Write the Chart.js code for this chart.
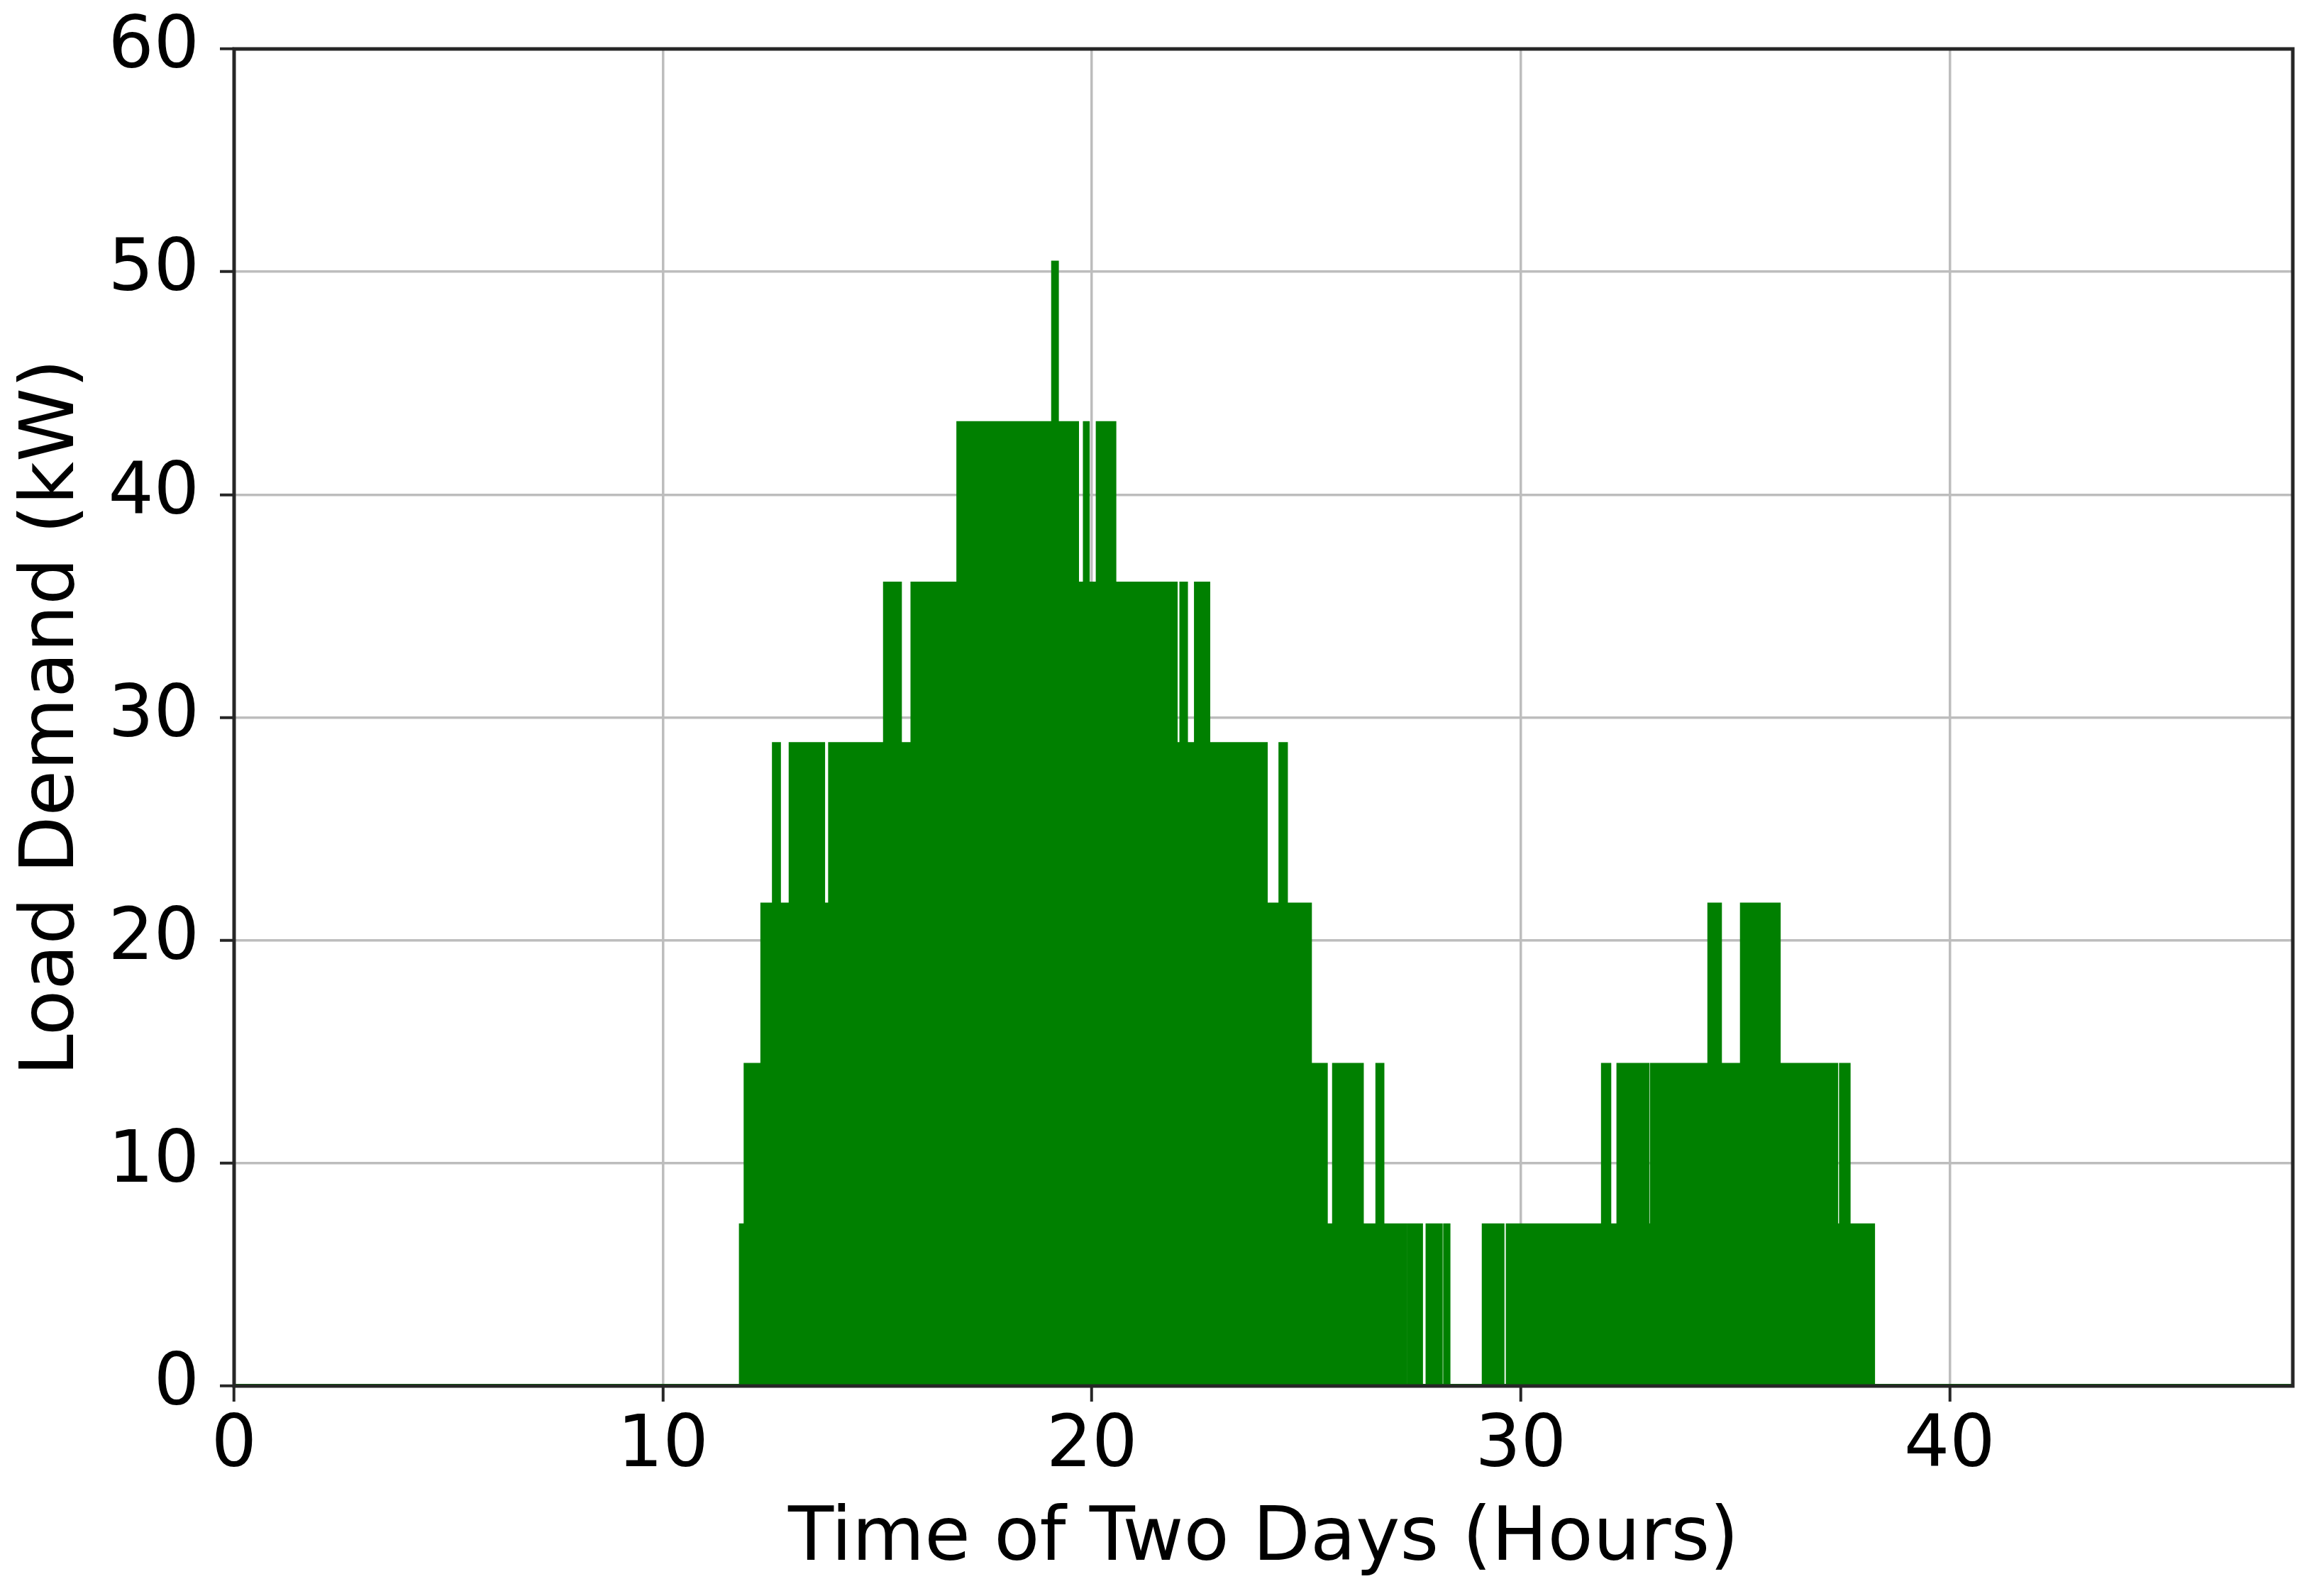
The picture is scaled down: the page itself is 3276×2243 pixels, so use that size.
<!DOCTYPE html>
<html>
<head>
<meta charset="utf-8">
<title>Load Demand</title>
<script src="https://cdn.jsdelivr.net/npm/chart.js@4.4.0/dist/chart.umd.min.js"></script>
<style>
  html, body { margin: 0; padding: 0; background: #fff; }
  #wrap { width: 3276px; height: 2243px; position: relative; }
</style>
</head>
<body>
<div id="wrap"><canvas id="loadChart"></canvas></div>
<script>
// switching instants (hours) and the load held from each instant on (kW)
const hours = [0, 11.82, 11.93, 12.32, 12.59, 12.70, 12.98, 13.73, 13.90, 15.18,
  15.52, 15.82, 16.89, 19.10, 19.18, 19.65, 19.84, 19.90, 20.14, 20.52,
  21.95, 22.09, 22.19, 22.43, 22.71, 24.05, 24.40, 24.52, 25.08, 25.45,
  25.65, 26.29, 26.66, 26.77, 27.30, 27.40, 27.67, 27.83, 28.13, 28.24,
  28.31, 29.14, 29.57, 29.70, 31.92, 32.06, 32.28, 32.95, 33.06, 34.40,
  34.64, 35.16, 36.01, 37.35, 37.47, 37.64, 38.21, 48];
const loadKW = [0, 7.2, 14.4, 21.6, 28.8, 21.6, 28.8, 21.6, 28.8, 36,
  28.8, 36, 43.2, 50.4, 43.2, 36, 43.2, 36, 43.2, 36,
  28.8, 36, 28.8, 36, 28.8, 21.6, 28.8, 21.6, 14.4, 7.2,
  14.4, 7.2, 14.4, 7.2, 0, 7.2, 0, 7.2, 0, 7.2,
  0, 7.2, 0, 7.2, 14.4, 7.2, 14.4, 7.2, 14.4, 21.6,
  14.4, 21.6, 14.4, 7.2, 14.4, 7.2, 0, 0];

const xTicks = [0, 10, 20, 30, 40];
const yTicks = [0, 10, 20, 30, 40, 50, 60];

const tickFont = { family: 'DejaVu Sans', size: 101 };
const titleFont = { family: 'DejaVu Sans', size: 105 };

// box round the plot, drawn over the data like matplotlib spines
const framePlugin = {
    id: 'frame',
    afterDatasetsDraw(chart) {
        const { ctx, chartArea } = chart;
        ctx.save();
        ctx.strokeStyle = '#262626';
        ctx.lineWidth = 5;
        ctx.strokeRect(chartArea.left, chartArea.top,
            chartArea.right - chartArea.left, chartArea.bottom - chartArea.top);
        ctx.restore();
    }
};

Chart.defaults.color = '#000';

const ctx = document.getElementById('loadChart').getContext('2d');
new Chart(ctx, {
    type: 'line',
    data: {
        datasets: [{
            label: 'Load Demand',
            data: hours.map((h, i) => ({ x: h, y: loadKW[i] })),
            stepped: true,
            borderColor: '#008000',
            backgroundColor: '#008000',
            borderWidth: 6,
            fill: 'origin',
            pointRadius: 0,
            tension: 0
        }]
    },
    options: {
        responsive: true,
        maintainAspectRatio: false,
        devicePixelRatio: 1,
        animation: false,
        layout: { padding: { top: 69, right: 44, left: 0, bottom: 0 } },
        plugins: { legend: { display: false }, tooltip: { enabled: false } },
        scales: {
            x: {
                type: 'linear',
                min: 0,
                max: 48,
                afterBuildTicks: scale => { scale.ticks = xTicks.map(v => ({ value: v })); },
                afterFit: scale => { scale.height = 289; scale.paddingLeft = 0; scale.paddingRight = 0; },
                border: { display: false },
                grid: { color: '#bdbdbd', lineWidth: 3.5, tickColor: '#262626', tickWidth: 4, tickLength: 22 },
                ticks: { font: tickFont, padding: 4, maxRotation: 0 },
                title: {
                    display: true,
                    text: 'Time of Two Days (Hours)',
                    font: titleFont,
                    padding: { top: 0, bottom: 8 }
                }
            },
            y: {
                min: 0,
                max: 60,
                afterBuildTicks: scale => { scale.ticks = yTicks.map(v => ({ value: v })); },
                afterFit: scale => { scale.width = 330; scale.paddingTop = 0; scale.paddingBottom = 0; },
                border: { display: false },
                grid: { color: '#bdbdbd', lineWidth: 3.5, tickColor: '#262626', tickWidth: 4, tickLength: 20 },
                ticks: { font: tickFont, padding: 29 },
                title: {
                    display: true,
                    text: 'Load Demand (kW)',
                    font: titleFont,
                    padding: { top: 13, bottom: 0 }
                }
            }
        }
    },
    plugins: [framePlugin]
});
</script>
</body>
</html>
